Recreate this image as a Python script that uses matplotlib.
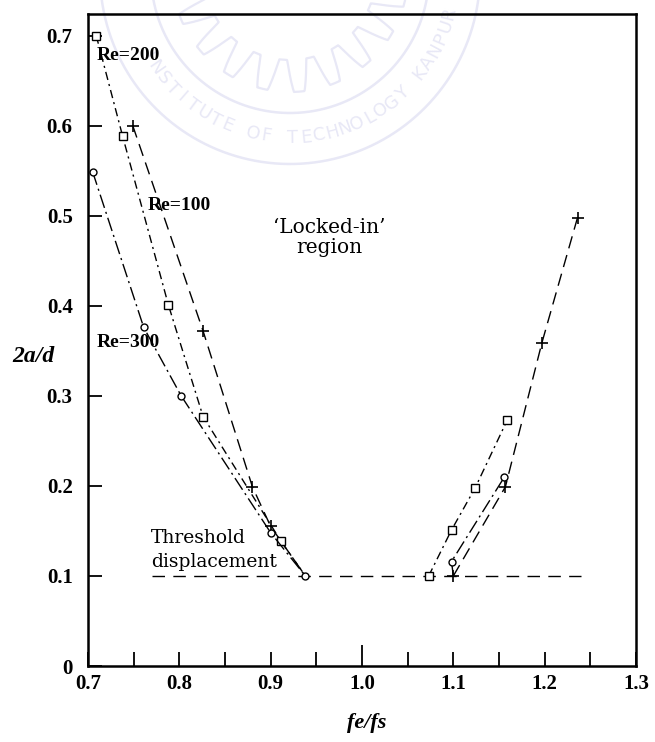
import numpy as np
import matplotlib.pyplot as plt
from matplotlib.ticker import MultipleLocator

plt.rcParams['font.family'] = ['Liberation Serif', 'DejaVu Serif']

# Re = 100 (plus markers, long dash)
re100_left_x = [0.749, 0.826, 0.880, 0.900, 0.938]
re100_left_y = [0.600, 0.372, 0.199, 0.155, 0.100]
re100_right_x = [1.100, 1.157, 1.197, 1.236]
re100_right_y = [0.100, 0.199, 0.359, 0.498]

# Re = 200 (square markers, dash-dot)
re200_left_x = [0.709, 0.738, 0.788, 0.826, 0.911, 0.938]
re200_left_y = [0.700, 0.588, 0.401, 0.277, 0.139, 0.100]
re200_right_x = [1.073, 1.098, 1.124, 1.159]
re200_right_y = [0.100, 0.151, 0.198, 0.273]

# Re = 300 (circle markers, long dash-dot)
re300_left_x = [0.705, 0.761, 0.802, 0.900, 0.938]
re300_left_y = [0.549, 0.376, 0.300, 0.148, 0.100]
re300_right_x = [1.100, 1.098, 1.156]
re300_right_y = [0.100, 0.116, 0.210]

# threshold displacement
thr_x = [0.770, 1.240]
thr_y = [0.100, 0.100]

xticks = [0.7, 0.8, 0.9, 1.0, 1.1, 1.2, 1.3]
xtick_labels = ['0.7', '0.8', '0.9', '1.0', '1.1', '1.2', '1.3']
yticks = [0.0, 0.1, 0.2, 0.3, 0.4, 0.5, 0.6, 0.7]
ytick_labels = ['0', '0.1', '0.2', '0.3', '0.4', '0.5', '0.6', '0.7']

W, H = 655, 742
fig = plt.figure(figsize=(W / 100, H / 100), dpi=100)

# faint institute stamp behind the plot (pixel coords, y up)
bg = fig.add_axes([0, 0, 1, 1], zorder=-5)
bg.set_xlim(0, W)
bg.set_ylim(0, H)
bg.axis('off')
wm = '#e8e8f6'
cx, cy = 290, H + 26
t = np.linspace(0, 2 * np.pi, 1440)
for r in (139, 190):
    bg.plot(cx + r * np.cos(t), cy + r * np.sin(t), color=wm, lw=1.8)
gear_r = 102 + 16 * np.clip(1.6 * np.sin(20 * t), -1, 1)
bg.plot(cx + gear_r * np.cos(t), cy + gear_r * np.sin(t), color=wm, lw=1.6)
stamp = 'INSTITUTE OF TECHNOLOGY KANPUR'
angles = np.linspace(np.radians(-150), np.radians(-14), len(stamp))
for ch, a in zip(stamp, angles):
    bg.text(cx + 164 * np.cos(a), cy + 164 * np.sin(a), ch, color=wm,
            fontsize=13, family='DejaVu Sans', ha='center', va='center',
            rotation=np.degrees(a) + 90, rotation_mode='anchor')

ax = fig.add_axes([88 / W, 76 / H, 548 / W, 652 / H])
ax.patch.set_alpha(0)

ls100 = (0, (9, 5))
ls200 = (0, (6, 3, 1.5, 3))
ls300 = (0, (10, 3, 1.5, 3))
lw = 1.0

ax.plot(thr_x, thr_y, color='black', lw=lw, ls=(0, (9, 6)))

ax.plot(re100_left_x, re100_left_y, color='black', lw=lw, ls=ls100,
        marker='+', ms=9, mew=1.2, markevery=[0, 1, 2, 3])
ax.plot(re100_right_x, re100_right_y, color='black', lw=lw, ls=ls100,
        marker='+', ms=9, mew=1.2)

ax.plot(re200_left_x, re200_left_y, color='black', lw=lw, ls=ls200,
        marker='s', ms=6, mfc='white', mew=1.0, markevery=[0, 1, 2, 3, 4])
ax.plot(re200_right_x, re200_right_y, color='black', lw=lw, ls=ls200,
        marker='s', ms=6, mfc='white', mew=1.0)

ax.plot(re300_left_x, re300_left_y, color='black', lw=lw, ls=ls300,
        marker='o', ms=5, mfc='white', mew=1.0)
ax.plot(re300_right_x, re300_right_y, color='black', lw=lw, ls=ls300,
        marker='o', ms=5, mfc='white', mew=1.0, markevery=[1, 2])

ax.set_xlim(0.7, 1.3)
ax.set_ylim(0.0, 0.724)
ax.set_xticks(xticks)
ax.set_xticklabels(xtick_labels)
ax.xaxis.set_minor_locator(MultipleLocator(0.05))
ax.set_yticks(yticks)
ax.set_yticklabels(ytick_labels)
ax.tick_params(which='both', direction='in', length=10, width=1.3)
ax.tick_params(axis='x', which='both', top=False, labelsize=15, pad=6)
ax.tick_params(axis='y', which='both', right=False, labelsize=15, pad=11)
ax.xaxis.get_major_ticks()[3].tick1line.set_markersize(15)
for lbl in ax.get_xticklabels() + ax.get_yticklabels():
    lbl.set_fontweight('bold')
for sp in ax.spines.values():
    sp.set_linewidth(1.8)

ax.set_xlabel('fe/fs', fontsize=16, fontweight='bold', style='italic',
              va='center', ha='center')
ax.xaxis.set_label_coords(0.508, -57 / 652)
ax.set_ylabel('2a/d', fontsize=17, fontweight='bold', style='italic',
              rotation=0, va='center', ha='center')
ax.yaxis.set_label_coords(-0.100, 0.474)

ax.text(0.709, 0.678, 'Re=200', fontsize=14, fontweight='bold', va='center')
ax.text(0.765, 0.511, 'Re=100', fontsize=14, fontweight='bold', va='center')
ax.text(0.709, 0.359, 'Re=300', fontsize=14, fontweight='bold', va='center')
ax.text(0.964, 0.476, '\u2018Locked-in\u2019\nregion', fontsize=14.5,
        family='DejaVu Serif', ha='center', va='center', linespacing=1.1)
ax.text(0.769, 0.129, 'Threshold\ndisplacement', fontsize=13.5,
        family='DejaVu Serif', ha='left', va='center', linespacing=1.4)

fig.savefig('out.png', dpi=100)
